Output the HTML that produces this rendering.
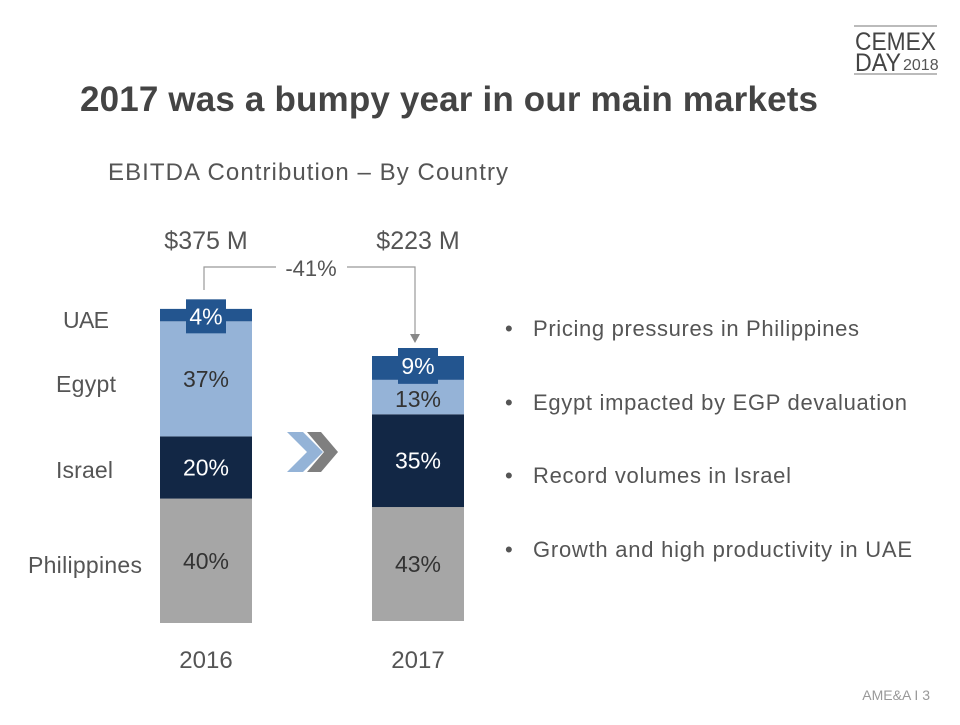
<!DOCTYPE html>
<html><head><meta charset="utf-8">
<style>
body{margin:0;width:960px;height:720px;background:#fff;overflow:hidden;font-family:"Liberation Sans",sans-serif;}
svg text{font-family:"Liberation Sans",sans-serif;}
</style></head>
<body>
<svg id="s" width="960" height="720">
  <g>
    <line x1="854" y1="26" x2="937" y2="26" stroke="#777" stroke-width="1"/>
    <line x1="854" y1="74" x2="937" y2="74" stroke="#777" stroke-width="1"/>
    <text x="855" y="50" font-size="25" fill="#444" textLength="81" lengthAdjust="spacingAndGlyphs">CEMEX</text>
    <text x="855" y="71" font-size="25" fill="#444" textLength="46" lengthAdjust="spacingAndGlyphs">DAY</text>
    <text x="903" y="70" font-size="16" fill="#555">2018</text>
  </g>
  <text x="80" y="111" font-size="35" font-weight="bold" fill="#444" textLength="738">2017 was a bumpy year in our main markets</text>
  <text x="108" y="180" font-size="24" fill="#555" textLength="400">EBITDA Contribution – By Country</text>
  <g id="chart"></g>
  <g font-size="23" fill="#555">
    <text x="63" y="328" textLength="46">UAE</text>
    <text x="56" y="392" textLength="60">Egypt</text>
    <text x="56" y="478" textLength="57">Israel</text>
    <text x="28" y="573" textLength="114">Philippines</text>
  </g>
  <g stroke="#999" fill="none" stroke-width="1.2">
    <polyline points="204,290 204,267 276,267"/>
    <polyline points="347,267 415,267 415,335"/>
    <polygon points="410,334 420,334 415,343" fill="#888" stroke="none"/>
  </g>
  <text x="311" y="276" font-size="22" fill="#555" text-anchor="middle">-41%</text>
  <g>
    <polygon points="287,432 303,432 323,452 303,472 287,472 307,452" fill="#94b3d7"/>
    <polygon points="307,432 321,432 338,452 321,472 307,472 324,452" fill="#7f7f7f"/>
  </g>
  <g font-size="22" fill="#555">
    <text x="505" y="336">•</text><text x="533" y="336" textLength="326">Pricing pressures in Philippines</text>
    <text x="505" y="410">•</text><text x="533" y="410" textLength="374">Egypt impacted by EGP devaluation</text>
    <text x="505" y="483">•</text><text x="533" y="483" textLength="258">Record volumes in Israel</text>
    <text x="505" y="557">•</text><text x="533" y="557" textLength="379">Growth and high productivity in UAE</text>
  </g>
  <text x="930" y="700" font-size="14" fill="#999" text-anchor="end">AME&amp;A I 3</text>
</svg>
<script>
const years = ["2016", "2017"];
const totals = ["$375 M", "$223 M"];
const philippines = [40, 43];
const israel = [20, 35];
const egypt = [37, 13];
const uae = [4, 9];
const NS = "http://www.w3.org/2000/svg";
const g = document.getElementById("chart");
const barX = [160, 372], barW = 92, bottom = [623, 621], pxPer = [3.11, 2.65];
const series = [
  {name:"philippines", vals:philippines, color:"#a6a6a6", text:"#333"},
  {name:"israel", vals:israel, color:"#122745", text:"#fff"},
  {name:"egypt", vals:egypt, color:"#95b3d7", text:"#333"},
  {name:"uae", vals:uae, color:"#23558f", text:"#fff"}
];
function mk(tag, attrs){const e=document.createElementNS(NS,tag);for(const k in attrs)e.setAttribute(k,attrs[k]);g.appendChild(e);return e;}
years.forEach((yr,i)=>{
  let y = bottom[i];
  series.forEach((s,si)=>{
    const h = s.vals[i]*pxPer[i];
    y -= h;
    const r = mk("rect",{x:barX[i],y:y,width:barW,height:h,fill:s.color});
    
    
    let ty = y + h/2 + 8;
    if (si===3){
      const bx = barX[i]+26, bh = Math.max(h+12, 34);
      const by = y+h-bh+(i===0?12:4);
      const box = mk("rect",{x:bx,y:by,width:40,height:bh,fill:s.color});
      
      
      ty = by+bh/2+8;
    } else if (si===2 && h<40){ ty = y + h/2 + 10; }
    const t = mk("text",{x:barX[i]+barW/2,y:ty,"font-size":23,fill:s.text,"text-anchor":"middle"});
    t.textContent = s.vals[i]+"%";
    
    
  });
  const tt = mk("text",{x:barX[i]+barW/2,y:249,"font-size":25,fill:"#555","text-anchor":"middle"});
  tt.textContent = totals[i];
  
  
  const xl = mk("text",{x:barX[i]+barW/2,y:668,"font-size":24,fill:"#555","text-anchor":"middle"});
  xl.textContent = yr;
  
  
});
</script>
</body></html>
